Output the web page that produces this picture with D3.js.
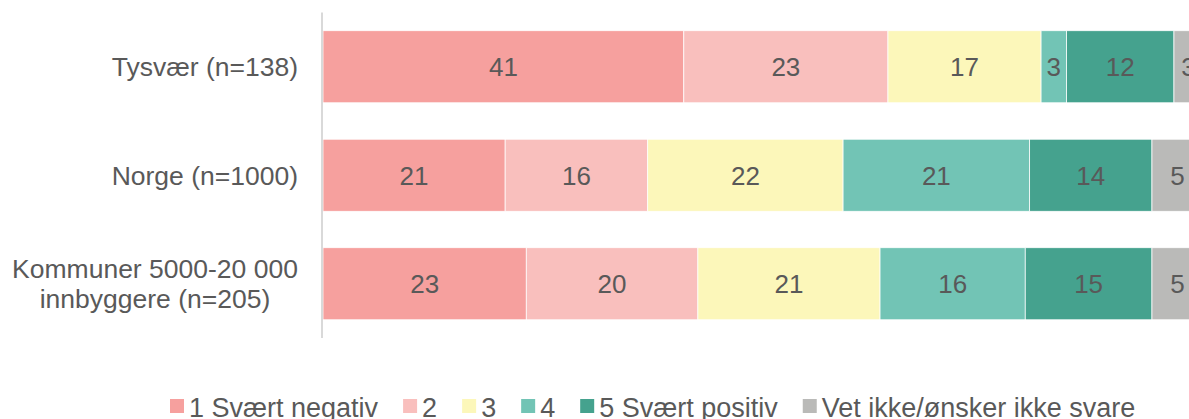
<!DOCTYPE html>
<html>
<head>
<meta charset="utf-8">
<script src="https://cdn.jsdelivr.net/npm/d3@7"></script>
<style>
  html, body { margin: 0; padding: 0; background: #fff; overflow: hidden; }
  text { font-family: "Liberation Sans", Arial, sans-serif; fill: #595959; }
</style>
</head>
<body>
<div id="viz"></div>
<script>
// categories (multi-line labels split with |)
var categories = ['Tysvær (n=138)', 'Norge (n=1000)', 'Kommuner 5000-20 000|innbyggere (n=205)'];
var seriesNames = ['1 Svært negativ', '2', '3', '4', '5 Svært positiv', 'Vet ikke/ønsker ikke svare'];
var colors = ['#F6A09E', '#F9BFBD', '#FCF7BA', '#72C4B5', '#45A28E', '#BABAB8'];

// estimated shares (per category, per answer)
var tysvaer = [41.0, 23.2, 17.4, 2.9, 12.2, 3.3];
var norge = [20.7, 16.2, 22.2, 21.2, 13.9, 5.8];
var kommuner = [23.1, 19.5, 20.7, 16.5, 14.4, 5.8];

// printed labels
var tysvaerLabels = [41, 23, 17, 3, 12, 3];
var norgeLabels = [21, 16, 22, 21, 14, 5];
var kommunerLabels = [23, 20, 21, 16, 15, 5];

var width = 1189;
var height = 419;
var margin = {top: 12.5, left: 323, right: -14, bottom: 81};

var rows = [tysvaer, norge, kommuner];
var rowLabels = [tysvaerLabels, norgeLabels, kommunerLabels];

var svg = d3.select('#viz')
  .append('svg')
  .attr('width', width)
  .attr('height', height);

var xScale = d3.scaleLinear().domain([0, 100]).range([margin.left, width - margin.right]);
var yScale = d3.scaleBand().domain(categories).range([margin.top, height - margin.bottom])
  .paddingInner(0.336).paddingOuter(0.168);

// build stacked segments
var segments = [];
rows.forEach(function(vals, r) {
  var acc = 0;
  vals.forEach(function(v, i) {
    segments.push({cat: categories[r], i: i, x0: acc, x1: acc + v, label: rowLabels[r][i]});
    acc += v;
  });
});

svg.append('g').selectAll('rect').data(segments)
  .enter().append('rect')
  .attr('x', function(d) { return xScale(d.x0); })
  .attr('width', function(d) { return xScale(d.x1) - xScale(d.x0); })
  .attr('y', function(d) { return yScale(d.cat); })
  .attr('height', yScale.bandwidth())
  .attr('fill', function(d) { return colors[d.i]; })
  .attr('stroke', '#fff')
  .attr('stroke-width', 0.75);

svg.append('g').selectAll('text').data(segments)
  .enter().append('text')
  .attr('x', function(d) { return (xScale(d.x0) + xScale(d.x1)) / 2; })
  .attr('y', function(d) { return yScale(d.cat) + yScale.bandwidth() / 2; })
  .attr('dy', '0.36em')
  .attr('text-anchor', 'middle')
  .style('font-size', '26px')
  .text(function(d) { return d.label; });

// vertical axis line
svg.append('line')
  .attr('x1', margin.left - 1).attr('x2', margin.left - 1)
  .attr('y1', margin.top).attr('y2', height - margin.bottom)
  .attr('stroke', '#D9D9D9')
  .attr('stroke-width', 2);

// category labels
var catG = svg.append('g');
categories.forEach(function(c) {
  var lines = c.split('|');
  var cy = yScale(c) + yScale.bandwidth() / 2;
  var t = catG.append('text')
    .style('font-size', '26.5px')
    .attr('text-anchor', lines.length > 1 ? 'middle' : 'end');
  var lx = lines.length > 1 ? 155 : 298;
  lines.forEach(function(l, k) {
    t.append('tspan')
      .attr('x', lx)
      .attr('y', cy + (k - (lines.length - 1) / 2) * 30)
      .attr('dy', '0.36em')
      .text(l);
  });
});

// legend
var legend = svg.append('g');
var lx = 170;
seriesNames.forEach(function(name, i) {
  legend.append('rect')
    .attr('x', lx).attr('y', 399)
    .attr('width', 14).attr('height', 14)
    .attr('fill', colors[i]);
  var t = legend.append('text')
    .attr('x', lx + 19)
    .attr('y', 417)
    .style('font-size', '27px')
    .text(name);
  lx = lx + 19 + t.node().getComputedTextLength() + 25;
});
</script>
</body>
</html>
